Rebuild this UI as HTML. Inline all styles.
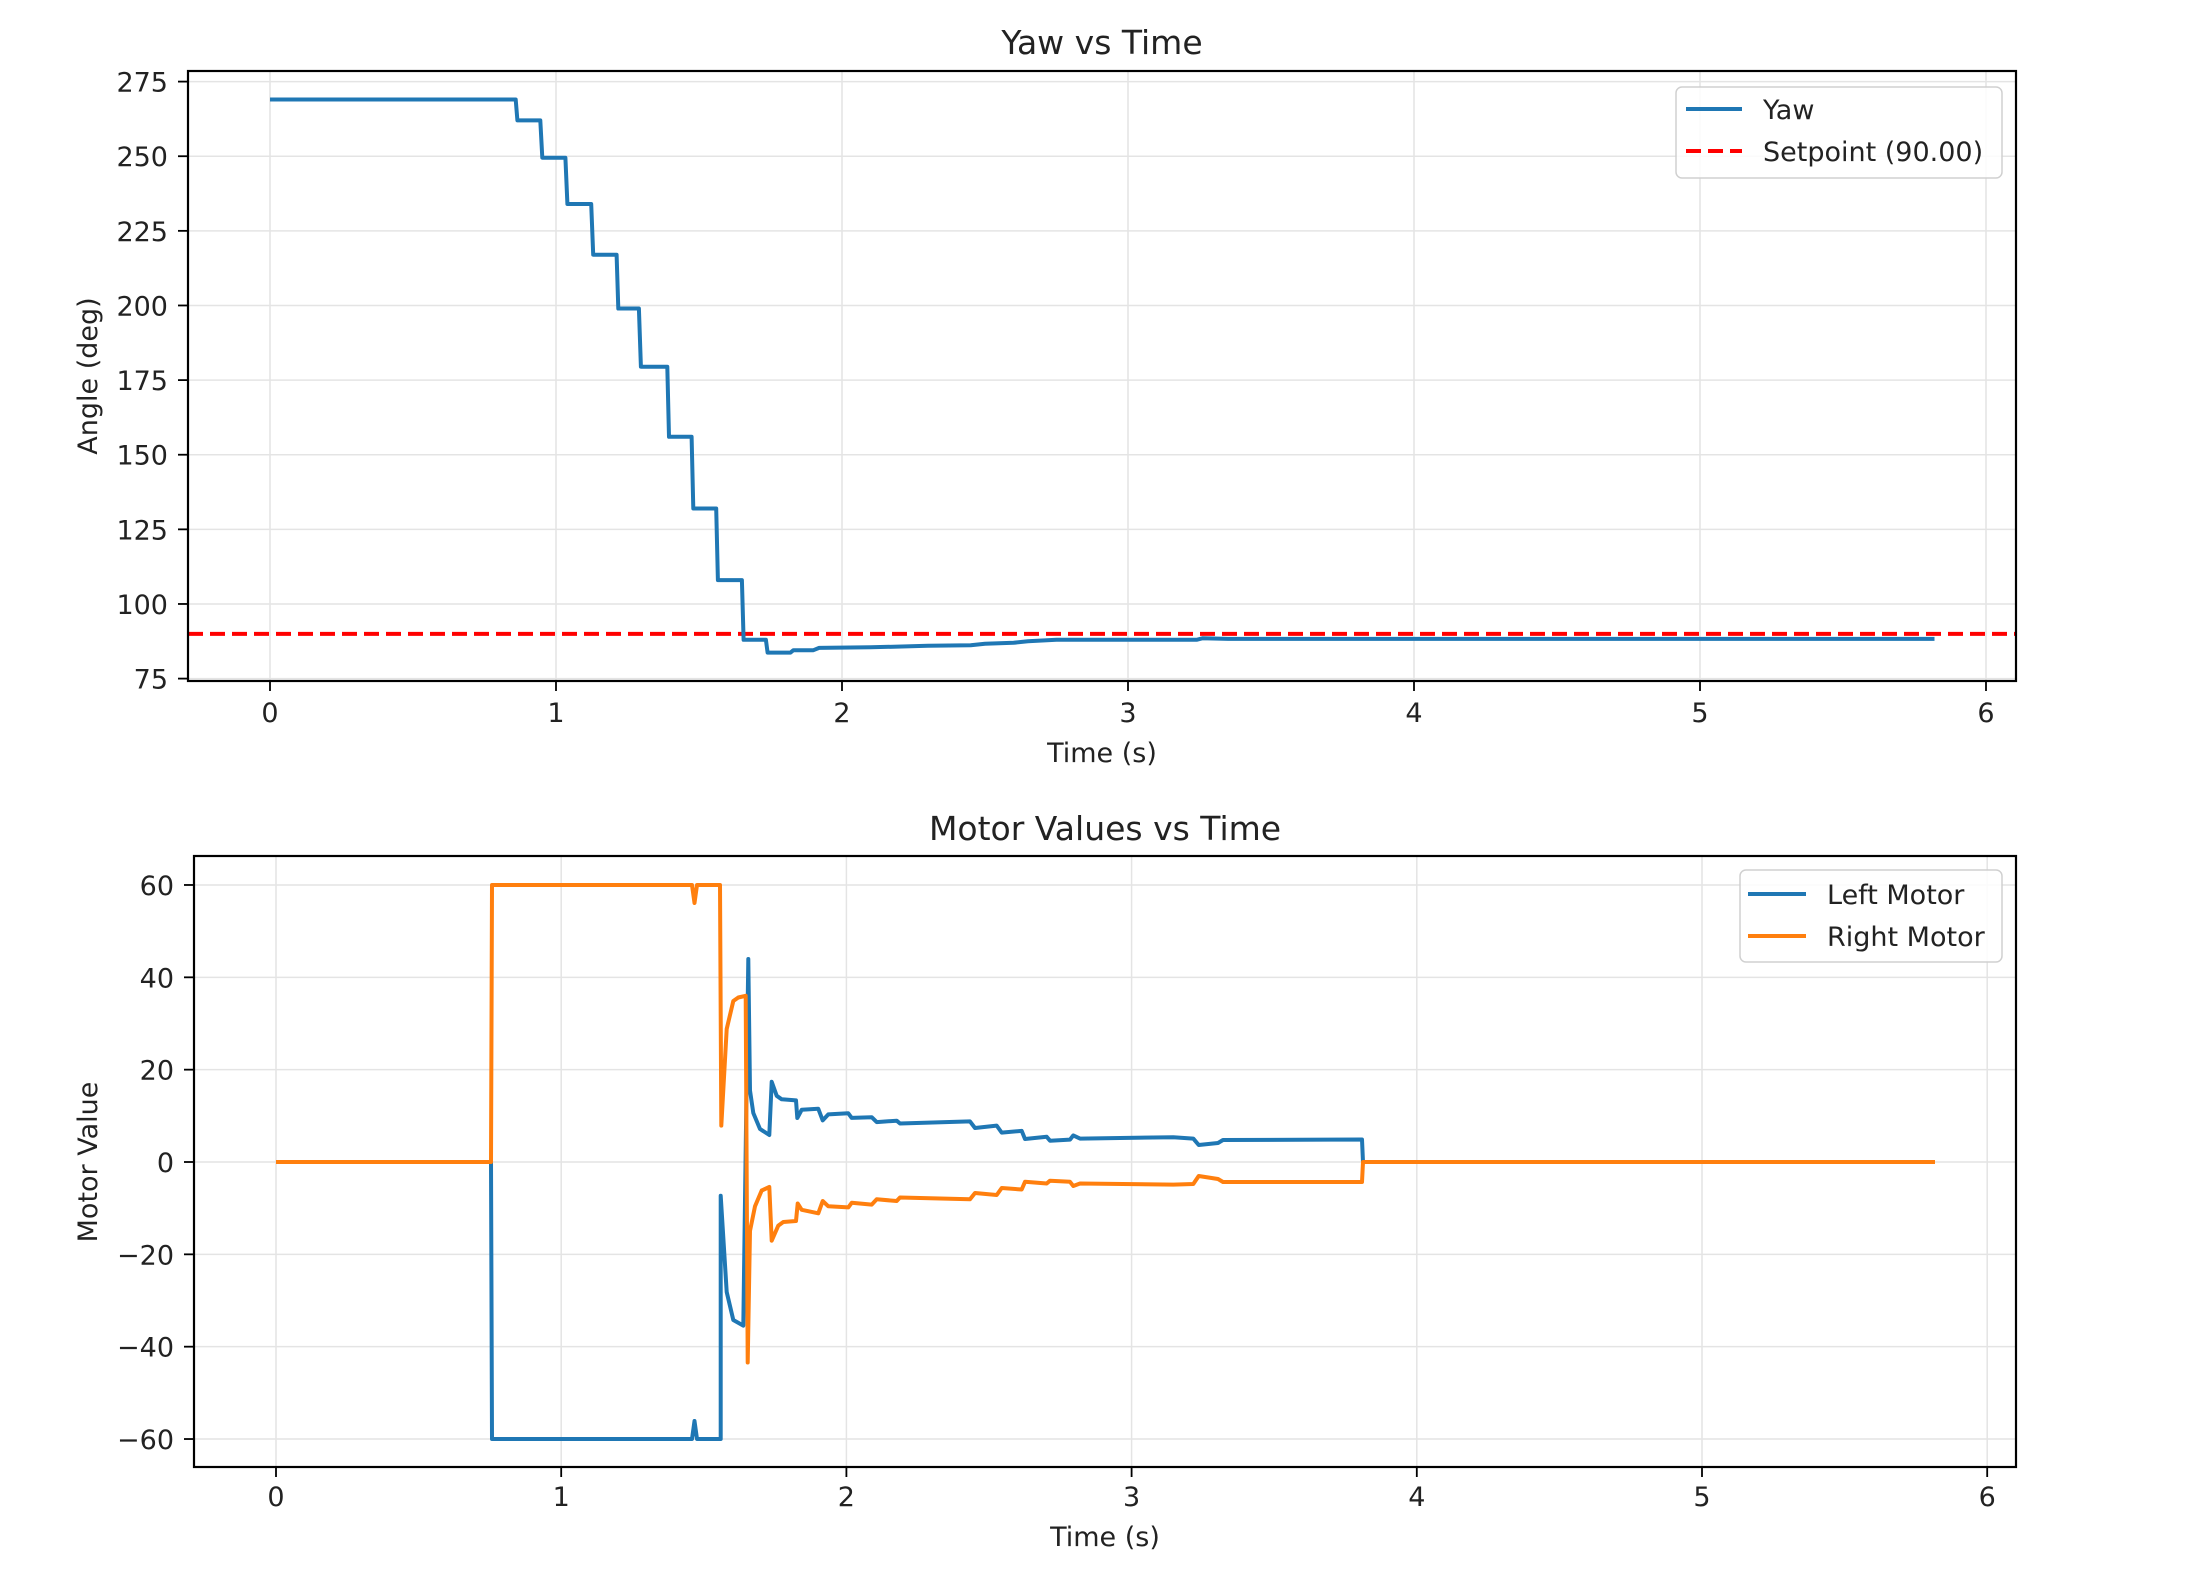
<!DOCTYPE html>
<html><head><meta charset="utf-8"><style>
html,body{margin:0;padding:0;background:#fff;}
svg{display:block;}
text{font-family:"DejaVu Sans","Liberation Sans",sans-serif;fill:#222;}
</style></head><body>
<svg id="s" width="2190" height="1588" viewBox="0 0 2190 1588" xmlns="http://www.w3.org/2000/svg">
<rect width="2190" height="1588" fill="#fff"/>
<g id="top"></g>
<g id="bot"></g>
<text x="1102" y="54" font-size="33" text-anchor="middle">Yaw vs Time</text>
<text x="1102" y="762" font-size="27" text-anchor="middle">Time (s)</text>
<text transform="translate(97,376) rotate(-90)" font-size="27" text-anchor="middle">Angle (deg)</text>
<text x="1105" y="840" font-size="33" text-anchor="middle">Motor Values vs Time</text>
<text x="1105" y="1546" font-size="27" text-anchor="middle">Time (s)</text>
<text transform="translate(97,1162) rotate(-90)" font-size="27" text-anchor="middle">Motor Value</text>
</svg>
<script>
var NS="http://www.w3.org/2000/svg";
function el(p,n,a,t){var e=document.createElementNS(NS,n);for(var k in a)e.setAttribute(k,a[k]);if(t!==undefined)e.textContent=t;p.appendChild(e);return e;}
var T=document.getElementById('top');
var L=188,R=2016,TT=71,TB=681;
function tx(t){return 270+286*t;}
function ty(v){return 81.6+(275-v)*2.985;}
for(var i=0;i<=6;i++){var x=tx(i);el(T,'line',{x1:x,x2:x,y1:TT,y2:TB,stroke:'#e4e4e4','stroke-width':1.5});
 el(T,'line',{x1:x,x2:x,y1:TB,y2:TB+10,stroke:'#000','stroke-width':1.8});
 el(T,'text',{x:x,y:722,'font-size':27,'text-anchor':'middle'},i);}
for(var v=75;v<=275;v+=25){var y=ty(v);el(T,'line',{x1:L,x2:R,y1:y,y2:y,stroke:'#e4e4e4','stroke-width':1.5});
 el(T,'line',{x1:L-10,x2:L,y1:y,y2:y,stroke:'#000','stroke-width':1.8});
 el(T,'text',{x:168,y:y+10,'font-size':27,'text-anchor':'end'},v);}
var yaw=[[0,269],[0.859,269],[0.865,262],[0.945,262],[0.952,249.5],[1.033,249.5],[1.04,234],[1.123,234],[1.13,217],[1.212,217],[1.218,199],[1.29,199],[1.297,179.5],[1.389,179.5],[1.395,156],[1.474,156],[1.48,132],[1.56,132],[1.566,108],[1.65,108],[1.656,88],[1.734,88],[1.74,83.7],[1.82,83.7],[1.83,84.5],[1.9,84.5],[1.92,85.3],[2.1,85.5],[2.3,86],[2.45,86.2],[2.5,86.7],[2.6,87],[2.65,87.5],[2.75,88],[3.24,88],[3.26,88.5],[3.35,88.3],[5.82,88.3]];
el(T,'line',{x1:L,x2:R,y1:ty(90),y2:ty(90),stroke:'#ff0000','stroke-width':4,'stroke-dasharray':'15,7'});
el(T,'polyline',{points:yaw.map(function(p){return tx(p[0]).toFixed(1)+','+ty(p[1]).toFixed(1)}).join(' '),fill:'none',stroke:'#1f77b4','stroke-width':4,'stroke-linejoin':'round'});
el(T,'rect',{x:L,y:TT,width:R-L,height:TB-TT,fill:'none',stroke:'#000','stroke-width':2.2});
el(T,'rect',{x:1676,y:87,width:326,height:91,rx:6,fill:'#fff','fill-opacity':0.85,stroke:'#d0d0d0','stroke-width':1.5});
el(T,'line',{x1:1686,x2:1742,y1:109,y2:109,stroke:'#1f77b4','stroke-width':4});
el(T,'line',{x1:1686,x2:1742,y1:151,y2:151,stroke:'#ff0000','stroke-width':4,'stroke-dasharray':'15,7'});
el(T,'text',{x:1763,y:119,'font-size':27},'Yaw');
el(T,'text',{x:1763,y:161,'font-size':27},'Setpoint (90.00)');
var B=document.getElementById('bot');
var BL=194,BR=2016,BT=856,BB=1467;
function bx(t){return 276+285.2*t;}
function by(v){return 1162-4.617*v;}
for(var i=0;i<=6;i++){var x=bx(i);el(B,'line',{x1:x,x2:x,y1:BT,y2:BB,stroke:'#e4e4e4','stroke-width':1.5});
 el(B,'line',{x1:x,x2:x,y1:BB,y2:BB+10,stroke:'#000','stroke-width':1.8});
 el(B,'text',{x:x,y:1506,'font-size':27,'text-anchor':'middle'},i);}
for(var v=-60;v<=60;v+=20){var y=by(v);el(B,'line',{x1:BL,x2:BR,y1:y,y2:y,stroke:'#e4e4e4','stroke-width':1.5});
 el(B,'line',{x1:BL-10,x2:BL,y1:y,y2:y,stroke:'#000','stroke-width':1.8});
 el(B,'text',{x:174,y:y+10,'font-size':27,'text-anchor':'end'},v<0?'\u2212'+(-v):v);}
var blue=[[276,1162],[491,1162],[492,1439],[692,1439],[694.5,1421],[697,1439],[720.7,1439],[720.7,1195.8],[726.7,1292],[733.3,1320],[743.3,1325.6],[748.3,959],[750,1090.5],[753.3,1113],[760,1129],[769.3,1135],[771.7,1081.8],[776.7,1095.8],[781.7,1099.3],[796,1100.4],[797.3,1118],[801.7,1109.8],[818.3,1108.8],[822.7,1120.4],[828.3,1114.4],[848.3,1113.3],[851.7,1117.9],[871.7,1117.2],[876.7,1122.1],[896.7,1120.7],[900,1123.5],[970,1121.4],[975,1128],[996.7,1125.6],[1001.7,1132.6],[1021.7,1130.9],[1025,1139],[1046.7,1136.8],[1050,1140.7],[1070,1139.6],[1073.3,1135.4],[1080,1138.6],[1173.3,1137.2],[1193.3,1138.6],[1198.7,1145],[1218,1143],[1223,1140],[1362,1139.5],[1363,1162],[1935,1162]];
var orange=[[276,1162],[491,1162],[492,885],[692,885],[694.5,903],[697,885],[720,885],[721.3,1125.6],[726.7,1029],[733.3,1001],[738.3,997.5],[745.7,995.8],[747.7,1362.5],[750,1230.9],[755,1206.3],[761.7,1190.5],[769.3,1187],[771.7,1240.7],[778.3,1225.6],[783.3,1222],[796,1221],[797.7,1203.5],[801.7,1209.8],[818.3,1213.3],[822.7,1201],[828.3,1206.3],[848.3,1207.4],[851.7,1202.8],[871.7,1204.6],[876.7,1199.3],[896.7,1201],[900,1197.5],[970,1199.3],[975,1193],[996.7,1195],[1001.7,1188],[1021.7,1189.5],[1025,1181.8],[1046.7,1183.5],[1050,1180.7],[1070,1181.8],[1073.3,1186],[1080,1183.5],[1173.3,1184.6],[1193.3,1184],[1198.7,1176],[1218,1179],[1223,1182],[1362,1182],[1363,1162],[1935,1162]];
function pts(a){return a.map(function(p){return p[0]+','+p[1]}).join(' ');}
el(B,'polyline',{points:pts(blue),fill:'none',stroke:'#1f77b4','stroke-width':4,'stroke-linejoin':'round'});
el(B,'polyline',{points:pts(orange),fill:'none',stroke:'#ff7f0e','stroke-width':4,'stroke-linejoin':'round'});
el(B,'rect',{x:BL,y:BT,width:BR-BL,height:BB-BT,fill:'none',stroke:'#000','stroke-width':2.2});
el(B,'rect',{x:1740,y:870,width:262,height:92,rx:6,fill:'#fff','fill-opacity':0.85,stroke:'#d0d0d0','stroke-width':1.5});
el(B,'line',{x1:1748,x2:1806,y1:894,y2:894,stroke:'#1f77b4','stroke-width':4});
el(B,'line',{x1:1748,x2:1806,y1:936,y2:936,stroke:'#ff7f0e','stroke-width':4});
el(B,'text',{x:1827,y:904,'font-size':27},'Left Motor');
el(B,'text',{x:1827,y:946,'font-size':27},'Right Motor');
</script>
</body></html>
